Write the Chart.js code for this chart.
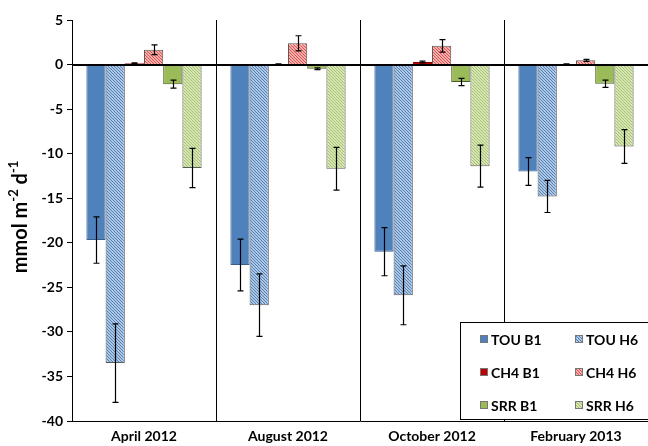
<!DOCTYPE html>
<html>
<head>
<meta charset="utf-8">
<script src="https://cdn.jsdelivr.net/npm/chart.js@4"></script>
<style>
  html, body { margin: 0; padding: 0; background: #fff; }
  #wrap { width: 648px; height: 446px; position: relative; }
</style>
</head>
<body>
<div id="wrap"><canvas id="chart" width="648" height="446"></canvas></div>
<script>
const categories = ["April 2012", "August 2012", "October 2012", "February 2013"];

const touB1 = [-19.7, -22.5, -21.0, -12.0];
const touB1Err = [2.6, 2.9, 2.7, 1.55];
const touH6 = [-33.5, -27.0, -25.9, -14.8];
const touH6Err = [4.4, 3.5, 3.3, 1.8];
const ch4B1 = [0.15, 0.05, 0.28, 0.05];
const ch4B1Err = [0.05, 0.02, 0.1, 0.02];
const ch4H6 = [1.66, 2.38, 2.1, 0.47];
const ch4H6Err = [0.55, 0.85, 0.7, 0.12];
const srrB1 = [-2.2, -0.47, -1.96, -2.15];
const srrB1Err = [0.45, 0.1, 0.4, 0.4];
const srrH6 = [-11.6, -11.7, -11.4, -9.2];
const srrH6Err = [2.2, 2.4, 2.35, 1.9];

const yTicks = [5, 0, -5, -10, -15, -20, -25, -30, -35, -40];

const FONT = "Lato, 'Open Sans', sans-serif";

function hatch(color) {
    const c = document.createElement("canvas");
    c.width = 3; c.height = 3;
    const g = c.getContext("2d");
    g.fillStyle = "#fff";
    g.fillRect(0, 0, 3, 3);
    g.strokeStyle = color;
    g.lineWidth = 1.3;
    g.beginPath();
    g.moveTo(-1, -1); g.lineTo(4, 4);
    g.moveTo(2, -1); g.lineTo(4, 1);
    g.moveTo(-1, 2); g.lineTo(1, 4);
    g.stroke();
    return g.createPattern(c, "repeat");
}

const series = [
    { label: "TOU B1", data: touB1, err: touB1Err, bg: "#4f81bd", border: "#385d8a" },
    { label: "TOU H6", data: touH6, err: touH6Err, bg: hatch("#4f81bd"), border: "#5a5a5a" },
    { label: "CH4 B1", data: ch4B1, err: ch4B1Err, bg: "#c00000", border: "#8c0000" },
    { label: "CH4 H6", data: ch4H6, err: ch4H6Err, bg: hatch("#e0504d"), border: "#5a5a5a" },
    { label: "SRR B1", data: srrB1, err: srrB1Err, bg: "#9bbb59", border: "#4a5a2a" },
    { label: "SRR H6", data: srrH6, err: srrH6Err, bg: hatch("#a6c466"), border: "#5a5a5a" },
];

const errorBars = {
    id: "errorBars",
    afterDatasetsDraw(chart) {
        const ctx = chart.ctx;
        const y = chart.scales.y;
        ctx.save();
        // zero line over the bars
        const y0 = Math.round(y.getPixelForValue(0)) + 0.5;
        ctx.strokeStyle = "#000";
        ctx.lineWidth = 1;
        ctx.beginPath();
        ctx.moveTo(chart.chartArea.left, y0);
        ctx.lineTo(chart.chartArea.right, y0);
        ctx.stroke();

        ctx.lineWidth = 1.2;
        chart.data.datasets.forEach((ds, i) => {
            const meta = chart.getDatasetMeta(i);
            meta.data.forEach((el, j) => {
                const v = ds.data[j];
                const e = series[i].err[j];
                const x = Math.round(el.x) + 0.5;
                const top = y.getPixelForValue(v + e);
                const bot = y.getPixelForValue(v - e);
                ctx.beginPath();
                ctx.moveTo(x, top); ctx.lineTo(x, bot);
                ctx.moveTo(x - 3, top); ctx.lineTo(x + 3, top);
                ctx.moveTo(x - 3, bot); ctx.lineTo(x + 3, bot);
                ctx.stroke();
            });
        });
        ctx.restore();
    }
};

const extras = {
    id: "extras",
    afterDraw(chart) {
        const ctx = chart.ctx;
        ctx.save();
        // y axis title with superscripts
        ctx.fillStyle = "#000";
        ctx.translate(20, 217);
        ctx.rotate(-Math.PI / 2);
        const parts = [["mmol m", 20, 0], ["-2", 13, -7], [" d", 20, 0], ["-1", 13, -7]];
        let total = 0;
        parts.forEach(p => { ctx.font = `bold ${p[1]}px ${FONT}`; total += ctx.measureText(p[0]).width; });
        let px = -total / 2;
        ctx.textBaseline = "middle";
        parts.forEach(p => {
            ctx.font = `bold ${p[1]}px ${FONT}`;
            ctx.fillText(p[0], px, p[2] + 1);
            px += ctx.measureText(p[0]).width;
        });
        ctx.restore();

        // legend box
        ctx.save();
        ctx.fillStyle = "#fff";
        ctx.fillRect(460.5, 322.5, 190, 97);
        ctx.strokeStyle = "#000";
        ctx.lineWidth = 1;
        ctx.strokeRect(460.5, 322.5, 190, 97);
        const rows = [339, 372, 405];
        const cols = [480, 575];
        ctx.font = `bold 14px ${FONT}`;
        ctx.textBaseline = "middle";
        series.forEach((s, i) => {
            const cx = cols[i % 2];
            const cy = rows[Math.floor(i / 2)];
            ctx.fillStyle = s.bg;
            ctx.fillRect(cx, cy - 4, 8, 8);
            ctx.strokeStyle = "#777";
            ctx.strokeRect(cx + 0.5, cy - 3.5, 7, 7);
            ctx.fillStyle = "#000";
            ctx.fillText(s.label, cx + 11, cy + 1);
        });
        ctx.restore();
    }
};

new Chart(document.getElementById("chart"), {
    type: "bar",
    data: {
        labels: categories,
        datasets: series.map(s => ({
            label: s.label,
            data: s.data,
            backgroundColor: s.bg,
            borderColor: s.border,
            borderWidth: 1,
            categoryPercentage: 0.8,
            barPercentage: 1.0,
        }))
    },
    options: {
        responsive: false,
        animation: false,
        layout: { padding: { top: 20, right: 0, left: 0, bottom: 0 } },
        plugins: {
            legend: { display: false },
            tooltip: { enabled: false },
        },
        scales: {
            x: {
                grid: {
                    offset: true,
                    color: "#000",
                    lineWidth: 1,
                    drawTicks: false,
                },
                border: { color: "#000", width: 1 },
                ticks: {
                    color: "#000",
                    font: { family: FONT, size: 14, weight: "bold" },
                    padding: 7,
                    maxRotation: 0,
                },
                afterFit: s => { s.height = 25; },
            },
            y: {
                min: -40,
                max: 5,
                afterBuildTicks: s => { s.ticks = yTicks.map(v => ({ value: v })); },
                grid: {
                    color: c => (c.tick && c.tick.value === 0 ? "#000" : "rgba(0,0,0,0)"),
                    tickColor: "#000",
                    tickLength: 5,
                },
                border: { color: "#000", width: 1 },
                ticks: {
                    color: "#000",
                    font: { family: FONT, size: 14, weight: "bold" },
                    padding: 4,
                },
                afterFit: s => { s.width = 72; },
            }
        }
    },
    plugins: [errorBars, extras]
});
</script>
</body>
</html>
